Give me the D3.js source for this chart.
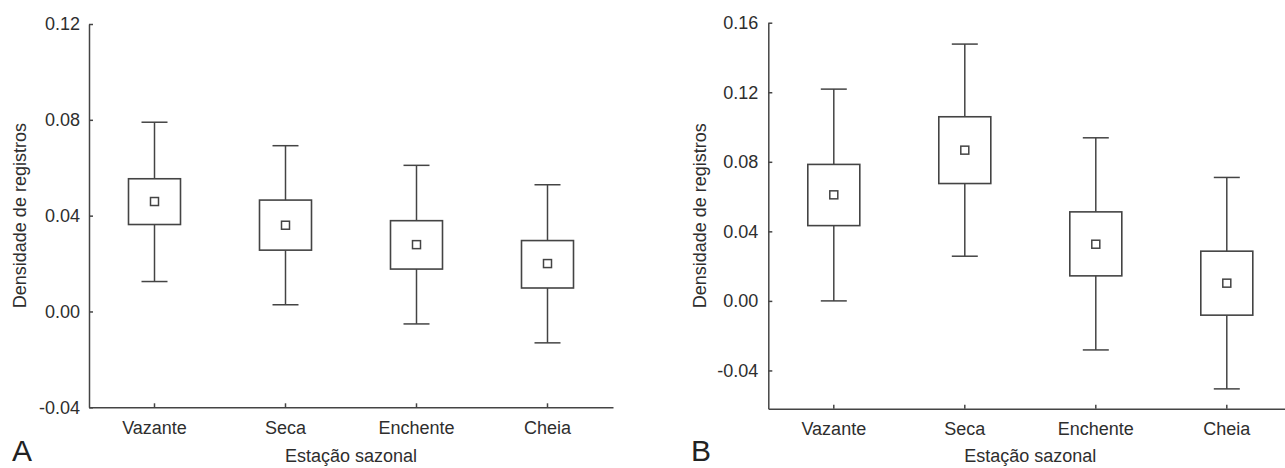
<!DOCTYPE html>
<html>
<head>
<meta charset="utf-8">
<script src="https://cdn.jsdelivr.net/npm/d3@7"></script>
<style>
  body { margin: 0; background: #fff; }
  svg { display: block; font-family: "Liberation Sans", Arial, sans-serif; }
  .axis path, .axis line { stroke: #444; stroke-width: 1.5; }
  .axis text { fill: #2e2e2e; font-size: 18px; font-family: "Liberation Sans", Arial, sans-serif; }
</style>
</head>
<body>
<div id="chart"></div>
<script>
// seasons on the x axis
const categories = ["Vazante", "Seca", "Enchente", "Cheia"]

// panel A: mean, box (low/high) and whiskers (low/high)
const meanA      = [0.0459, 0.0360, 0.0279, 0.0200]
const boxLowA    = [0.0363, 0.0256, 0.0177, 0.0098]
const boxHighA   = [0.0554, 0.0465, 0.0379, 0.0296]
const whiskLowA  = [0.0125, 0.0028, -0.0052, -0.0131]
const whiskHighA = [0.0790, 0.0692, 0.0610, 0.0529]
const ticksA = [-0.04, 0.00, 0.04, 0.08, 0.12]

// panel B
const meanB      = [0.0610, 0.0867, 0.0326, 0.0102]
const boxLowB    = [0.0433, 0.0675, 0.0144, -0.0082]
const boxHighB   = [0.0785, 0.1059, 0.0512, 0.0286]
const whiskLowB  = [0.0000, 0.0257, -0.0282, -0.0506]
const whiskHighB = [0.1218, 0.1477, 0.0938, 0.0710]
const ticksB = [-0.04, 0.00, 0.04, 0.08, 0.12, 0.16]

const yTitle = "Densidade de registros"
const xTitle = "Estação sazonal"

const svg_width = 1285, svg_height = 468
const box_width = 52, cap_width = 26, mean_size = 8
const line_color = "#444", text_color = "#2e2e2e"

const svg = d3.select("#chart").append("svg")
    .attr("width", svg_width)
    .attr("height", svg_height)

function build_panel(p) {
    let g = svg.append("g")

    let xScale = d3.scaleBand().domain(categories).range([p.left, p.right]).padding(0),
        yScale = d3.scaleLinear().domain(p.domain).range([p.bottom, p.top]);

    // y axis, ticks pointing inward
    g.append("g")
        .attr("class", "axis")
        .attr("transform", "translate(" + p.left + ",0)")
        .call(d3.axisLeft(yScale).tickValues(p.ticks)
            .tickFormat(d => d.toFixed(2))
            .tickSizeInner(-4).tickSizeOuter(0).tickPadding(p.ypad))

    // x axis
    g.append("g")
        .attr("class", "axis")
        .attr("transform", "translate(0," + p.bottom + ")")
        .call(d3.axisBottom(xScale).tickSizeInner(-4).tickSizeOuter(0).tickPadding(14))

    for (let i = 0; i < categories.length; i++) {
        let cx = xScale(categories[i]) + xScale.bandwidth() / 2
        // whiskers
        g.append("line")
            .attr("x1", cx).attr("x2", cx)
            .attr("y1", yScale(p.whiskHigh[i])).attr("y2", yScale(p.boxHigh[i]))
            .attr("stroke", line_color).attr("stroke-width", 1.5)
        g.append("line")
            .attr("x1", cx).attr("x2", cx)
            .attr("y1", yScale(p.boxLow[i])).attr("y2", yScale(p.whiskLow[i]))
            .attr("stroke", line_color).attr("stroke-width", 1.5)
        // caps
        ;[p.whiskHigh[i], p.whiskLow[i]].forEach(v => {
            g.append("line")
                .attr("x1", cx - cap_width / 2).attr("x2", cx + cap_width / 2)
                .attr("y1", yScale(v)).attr("y2", yScale(v))
                .attr("stroke", line_color).attr("stroke-width", 1.5)
        })
        // box
        g.append("rect")
            .attr("x", cx - box_width / 2)
            .attr("y", yScale(p.boxHigh[i]))
            .attr("width", box_width)
            .attr("height", yScale(p.boxLow[i]) - yScale(p.boxHigh[i]))
            .attr("fill", "none")
            .attr("stroke", line_color).attr("stroke-width", 1.6)
        // mean marker
        g.append("rect")
            .attr("x", cx - mean_size / 2)
            .attr("y", yScale(p.mean[i]) - mean_size / 2)
            .attr("width", mean_size).attr("height", mean_size)
            .attr("fill", "#fff")
            .attr("stroke", line_color).attr("stroke-width", 1.5)
    }

    // axis titles
    g.append("text")
        .attr("transform", "translate(" + p.ytitleX + "," + ((p.top + p.bottom) / 2) + ") rotate(-90)")
        .attr("text-anchor", "middle")
        .attr("font-size", 18)
        .attr("fill", text_color)
        .text(yTitle)
    g.append("text")
        .attr("x", (p.left + p.right) / 2)
        .attr("y", 462)
        .attr("text-anchor", "middle")
        .attr("font-size", 18)
        .attr("fill", text_color)
        .text(xTitle)

    // panel letter
    g.append("text")
        .attr("x", p.letterX)
        .attr("y", 461)
        .attr("font-size", 30)
        .attr("fill", "#222")
        .text(p.letter)
}

build_panel({
    left: 89, right: 613, top: 24, bottom: 407.3,
    domain: [-0.04, 0.12], ticks: ticksA, ypad: 9,
    mean: meanA, boxLow: boxLowA, boxHigh: boxHighA,
    whiskLow: whiskLowA, whiskHigh: whiskHighA,
    ytitleX: 26, letter: "A", letterX: 12
})

build_panel({
    left: 768.3, right: 1292.3, top: 22.7, bottom: 408.7,
    domain: [-0.062, 0.16], ticks: ticksB, ypad: 10,
    mean: meanB, boxLow: boxLowB, boxHigh: boxHighB,
    whiskLow: whiskLowB, whiskHigh: whiskHighB,
    ytitleX: 706, letter: "B", letterX: 691
})
</script>
</body>
</html>
